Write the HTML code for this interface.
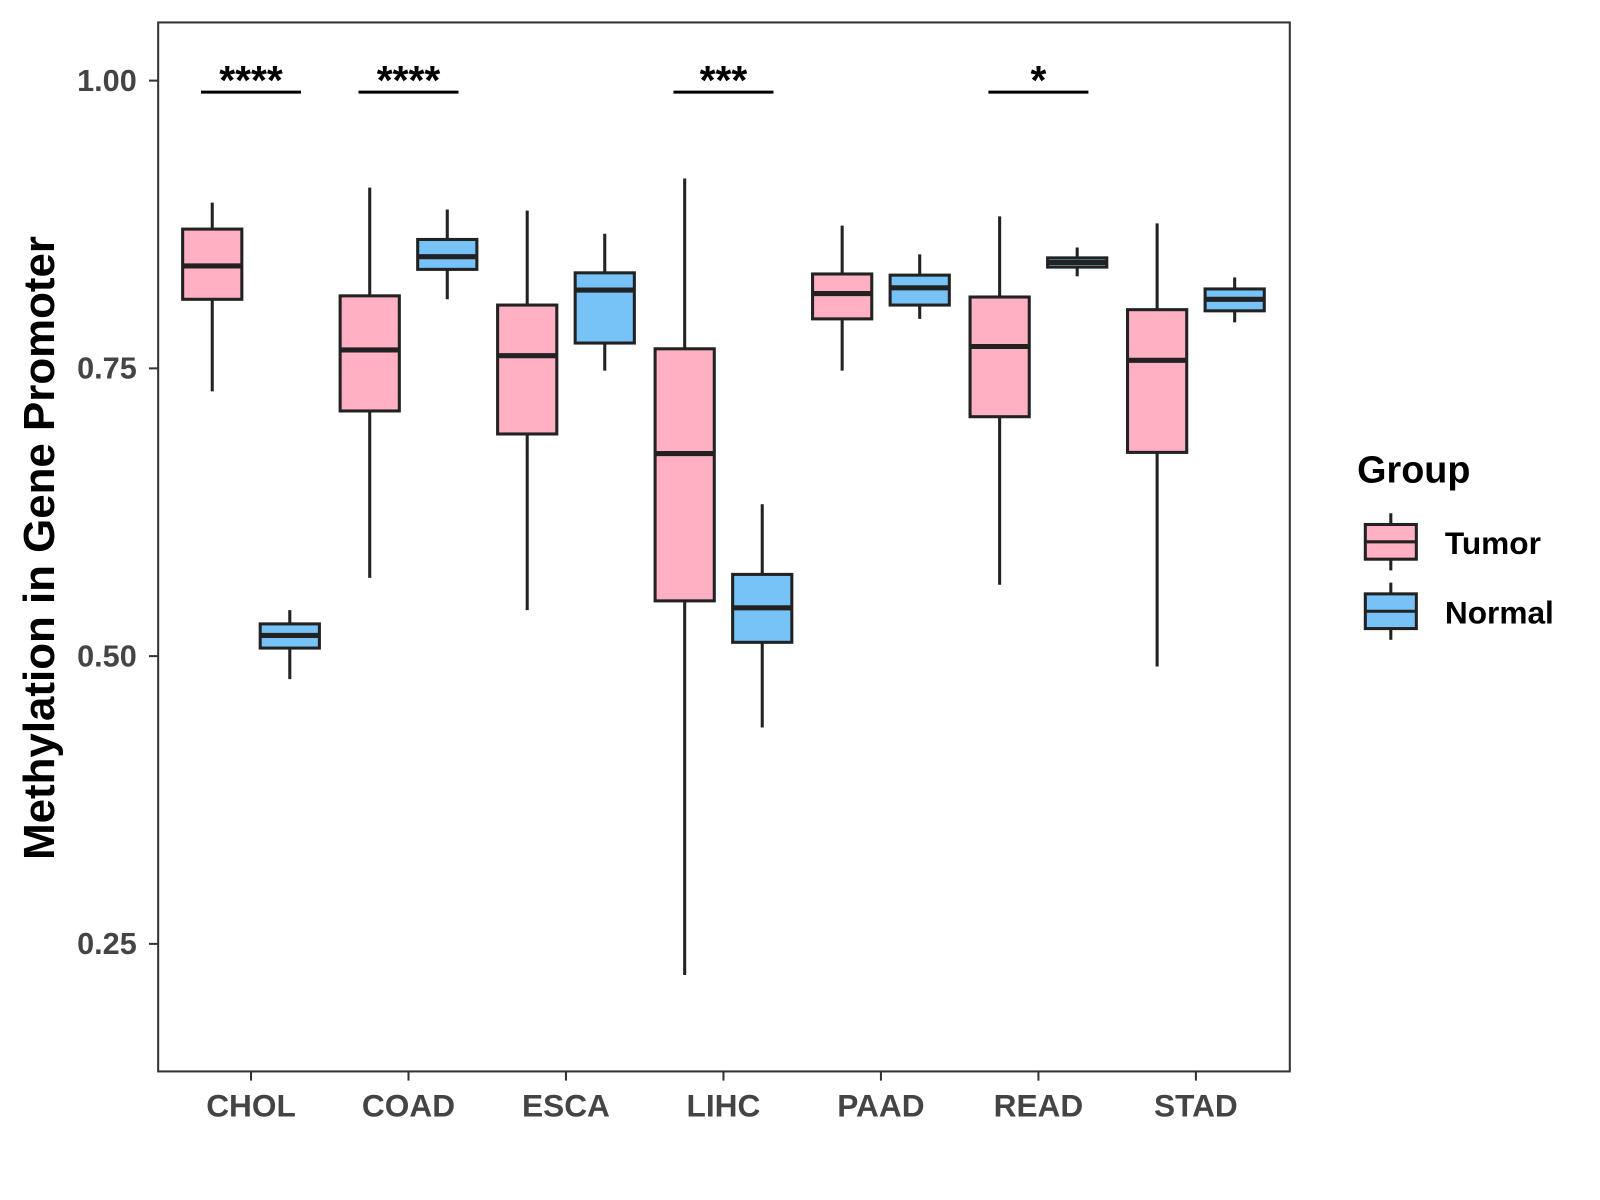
<!DOCTYPE html>
<html><head><meta charset="utf-8"><style>
html,body{margin:0;padding:0;background:#fff}
svg{display:block;font-family:"Liberation Sans",Arial,sans-serif}
</style></head><body>
<svg id="chart" width="1600" height="1200" viewBox="0 0 1568 1176" xmlns="http://www.w3.org/2000/svg">
<rect x="155" y="22" width="1109" height="1028" fill="#fff" stroke="#333" stroke-width="2"/>
<g id="yaxis"></g><g id="xaxis"></g><g id="boxes"></g><g id="sig"></g>
<text transform="translate(53,537) rotate(-90)" text-anchor="middle" font-size="43" font-weight="bold" fill="#000">Methylation in Gene Promoter</text>
<g>
<text x="1330" y="473" font-size="37" font-weight="bold">Group</text>
<g>
<line x1="1363" x2="1363" y1="503" y2="559" stroke="#222" stroke-width="3"/>
<rect x="1338" y="514" width="50" height="34" fill="#FFB0C3" stroke="#222" stroke-width="3"/>
<line x1="1338" x2="1388" y1="531" y2="531" stroke="#222" stroke-width="3"/>
<text x="1416" y="543" font-size="31" font-weight="bold">Tumor</text></g>
<g>
<line x1="1363" x2="1363" y1="571" y2="627" stroke="#222" stroke-width="3"/>
<rect x="1338" y="582" width="50" height="34" fill="#77C3F8" stroke="#222" stroke-width="3"/>
<line x1="1338" x2="1388" y1="599" y2="599" stroke="#222" stroke-width="3"/>
<text x="1416" y="611" font-size="31" font-weight="bold">Normal</text></g>
</g>
</svg>
<script>
const categories=["CHOL","COAD","ESCA","LIHC","PAAD","READ","STAD"];
// [lower whisker, q1, median, q3, upper whisker]
const tumorStats=[[0.730,0.810,0.839,0.871,0.894],[0.568,0.713,0.766,0.813,0.907],[0.540,0.693,0.761,0.805,0.887],[0.223,0.548,0.676,0.767,0.915],[0.748,0.793,0.815,0.832,0.874],[0.562,0.708,0.769,0.812,0.882],[0.491,0.677,0.757,0.801,0.876]];
const normalStats=[[0.480,0.507,0.518,0.528,0.540],[0.810,0.836,0.847,0.862,0.888],[0.748,0.772,0.818,0.833,0.867],[0.438,0.512,0.542,0.571,0.632],[0.793,0.805,0.820,0.831,0.849],[0.830,0.838,0.842,0.846,0.855],[0.790,0.800,0.810,0.819,0.829]];
const yTicks=[0.25,0.50,0.75,1.00];
const sigLabels=["****","****","","***","","*",""];
const sigLevel=0.99;

const NS="http://www.w3.org/2000/svg";
const y=v=>79+(1-v)*1128;
const x=i=>246+i*154.33;
function mk(tag,attrs,parent){const e=document.createElementNS(NS,tag);for(const k in attrs)e.setAttribute(k,attrs[k]);parent.appendChild(e);return e;}
const ya=document.getElementById('yaxis'),xa=document.getElementById('xaxis'),bx=document.getElementById('boxes'),sg=document.getElementById('sig');
yTicks.forEach(t=>{
 const l=mk('line',{x1:146,x2:155,y1:y(t),y2:y(t),stroke:'#333','stroke-width':2},ya);
 
 
 const tx=mk('text',{x:134,y:y(t)+10,'text-anchor':'end','font-size':30,'font-weight':'bold',fill:'#444'},ya);
 tx.textContent=t.toFixed(2);
 
 
});
categories.forEach((c,i)=>{
 const l=mk('line',{x1:x(i),x2:x(i),y1:1050,y2:1059,stroke:'#333','stroke-width':2},xa);
 
 
 const tx=mk('text',{x:x(i),y:1094,'text-anchor':'middle','font-size':31,'font-weight':'bold',fill:'#444'},xa);
 tx.textContent=c;
 
 
 [[tumorStats[i],-38,'#FFB0C3','tumor'],[normalStats[i],38,'#77C3F8','normal']].forEach(([s,off,col,nm])=>{
  const cx=x(i)+off;
  const g=mk('g',{},bx);
  
  
  mk('line',{x1:cx,x2:cx,y1:y(s[0]),y2:y(s[4]),stroke:'#222','stroke-width':3},g);
  mk('rect',{x:cx-29,y:y(s[3]),width:58,height:y(s[1])-y(s[3]),fill:col,stroke:'#222','stroke-width':3},g);
  mk('line',{x1:cx-29,x2:cx+29,y1:y(s[2]),y2:y(s[2]),stroke:'#222','stroke-width':5},g);
 });
 if(sigLabels[i]){
  const l=mk('line',{x1:x(i)-49,x2:x(i)+49,y1:y(sigLevel),y2:y(sigLevel),stroke:'#000','stroke-width':3},sg);
  
  
  const tx=mk('text',{x:x(i),y:y(sigLevel)+2,'text-anchor':'middle','font-size':40,'font-weight':'bold'},sg);
  tx.textContent=sigLabels[i];
  
  
 }
});
</script>
</body></html>
